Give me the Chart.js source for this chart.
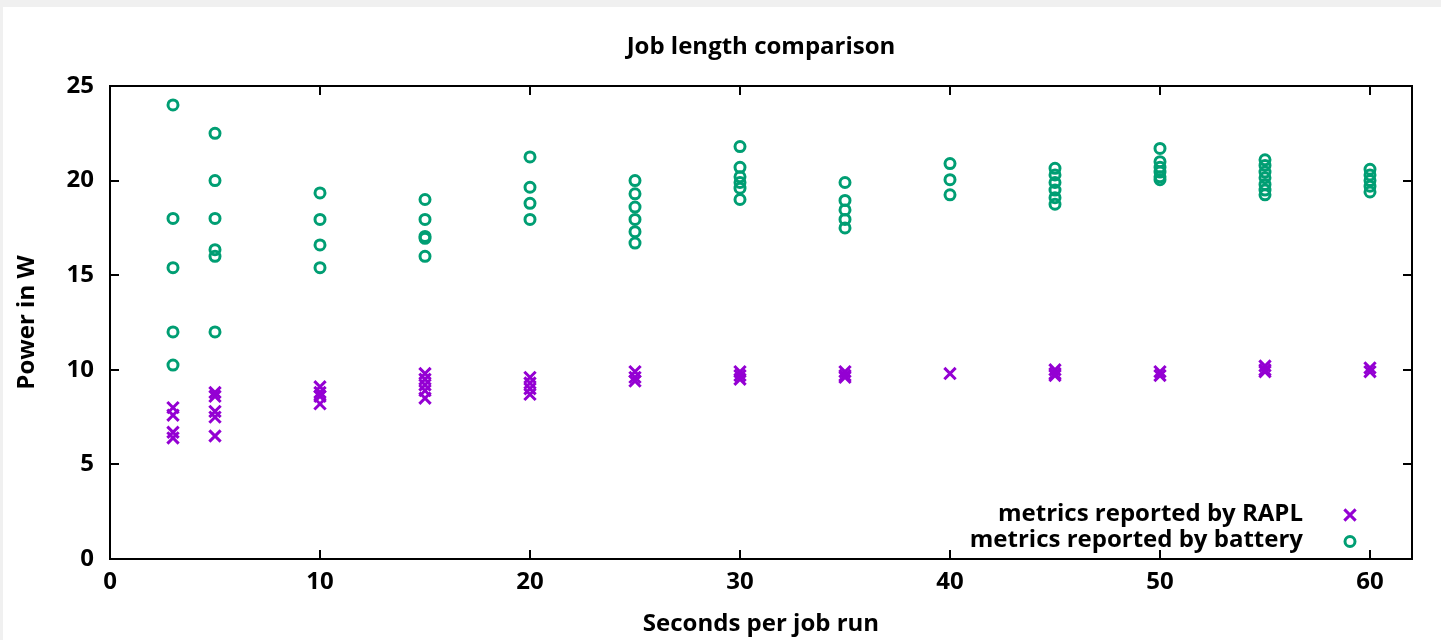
<!DOCTYPE html>
<html>
<head>
<meta charset="utf-8">
<title>Job length comparison</title>
<script src="https://cdn.jsdelivr.net/npm/chart.js@4.4.1/dist/chart.umd.min.js"></script>
<style>
  html, body { margin: 0; padding: 0; background: #f0f0f0; overflow: hidden; }
  #sheet { position: absolute; left: 3px; top: 7px; width: 1438px; height: 633px; background: #ffffff; }
  #wrap { position: absolute; left: 0; top: 0; width: 1441px; height: 640px; }
</style>
</head>
<body>
<div id="sheet"></div>
<div id="wrap"><canvas id="chart" width="1441" height="640"></canvas></div>
<script>
// Job lengths (seconds per run) and the power samples measured at each length
const jobLengths = [3, 5, 10, 15, 20, 25, 30, 35, 40, 45, 50, 55, 60];

const raplPower = [
  [8.0, 7.6, 6.7, 6.4],
  [8.8, 8.6, 7.8, 7.5, 6.5],
  [9.1, 8.8, 8.6, 8.2],
  [9.8, 9.5, 9.2, 8.9, 8.5],
  [9.6, 9.3, 9.0, 8.7],
  [9.9, 9.6, 9.4],
  [9.9, 9.7, 9.5],
  [9.9, 9.7, 9.6],
  [9.8],
  [10.0, 9.8, 9.7],
  [9.9, 9.7],
  [10.2, 10.0, 9.9],
  [10.1, 9.9]
];

const batteryPower = [
  [24.0, 18.0, 15.4, 12.0, 10.25],
  [22.5, 20.0, 18.0, 16.35, 16.0, 12.0],
  [19.35, 17.95, 16.6, 15.4],
  [19.0, 17.95, 17.05, 16.95, 16.0],
  [21.25, 19.65, 18.8, 17.95],
  [20.0, 19.3, 18.6, 17.95, 17.3, 16.7],
  [21.8, 20.7, 20.2, 19.9, 19.6, 19.0],
  [19.9, 18.95, 18.45, 17.95, 17.5],
  [20.9, 20.05, 19.25],
  [20.65, 20.3, 19.9, 19.5, 19.1, 18.75],
  [21.7, 21.0, 20.7, 20.45, 20.2, 20.05],
  [21.1, 20.8, 20.45, 20.15, 19.8, 19.5, 19.25],
  [20.6, 20.3, 20.0, 19.7, 19.4]
];

const xTicks = { min: 0, max: 62, step: 10 };
const yTicks = { min: 0, max: 25, step: 5 };

const seriesLabels = ['metrics reported by RAPL', 'metrics reported by battery'];
const chartTitle = 'Job length comparison';
const xTitle = 'Seconds per job run';
const yTitle = 'Power in W';

function toPoints(lengths, samples) {
  return lengths.flatMap((x, i) => samples[i].map(y => ({ x, y })));
}

const FONT = "'Open Sans', 'Noto Sans', sans-serif";
const FSIZE = 24;

// Plot title centred over the plotting area
const titlePlugin = {
  id: 'plotTitle',
  afterDraw(chart) {
    const { ctx, chartArea: a } = chart;
    ctx.save();
    ctx.font = 'bold ' + FSIZE + 'px ' + FONT;
    ctx.fillStyle = '#000';
    ctx.textAlign = 'center';
    ctx.textBaseline = 'alphabetic';
    ctx.fillText(chartTitle, (a.left + a.right) / 2, 54);
    ctx.restore();
  }
};

// Closed frame with inward ticks on all four sides
const framePlugin = {
  id: 'frame',
  beforeDatasetsDraw(chart) {
    const { ctx, chartArea: a, scales: { x, y } } = chart;
    const len = 9;
    ctx.save();
    ctx.strokeStyle = '#000';
    ctx.lineWidth = 2;
    ctx.beginPath();
    x.ticks.forEach(t => {
      const px = Math.round(x.getPixelForValue(t.value));
      ctx.moveTo(px, a.bottom); ctx.lineTo(px, a.bottom - len);
      ctx.moveTo(px, a.top); ctx.lineTo(px, a.top + len);
    });
    y.ticks.forEach(t => {
      const py = Math.round(y.getPixelForValue(t.value));
      ctx.moveTo(a.left, py); ctx.lineTo(a.left + len, py);
      ctx.moveTo(a.right, py); ctx.lineTo(a.right - len, py);
    });
    ctx.stroke();
    ctx.strokeRect(a.left, a.top, a.right - a.left, a.bottom - a.top);
    ctx.restore();
  }
};

// Key in the lower right corner: right-aligned text followed by the marker
const keyPlugin = {
  id: 'key',
  afterDatasetsDraw(chart) {
    const { ctx } = chart;
    const textRight = 1303, markX = 1350, firstRow = 515, rowGap = 26.5;
    ctx.save();
    chart.data.datasets.forEach((ds, i) => {
      const yy = firstRow + i * rowGap;
      ctx.font = 'bold ' + FSIZE + 'px ' + FONT;
      ctx.fillStyle = '#000';
      ctx.textAlign = 'right';
      ctx.textBaseline = 'middle';
      ctx.fillText(ds.label, textRight, yy - 1);
      ctx.strokeStyle = ds.borderColor;
      ctx.fillStyle = 'rgba(0,0,0,0)';
      ctx.lineWidth = ds.borderWidth;
      Chart.helpers.drawPoint(ctx, { pointStyle: ds.pointStyle, radius: ds.pointRadius, borderWidth: ds.borderWidth, rotation: 0 }, markX, yy);
    });
    ctx.restore();
  }
};

new Chart(document.getElementById('chart'), {
  type: 'scatter',
  data: {
    datasets: [
      {
        label: seriesLabels[0],
        data: toPoints(jobLengths, raplPower),
        pointStyle: 'crossRot',
        pointRadius: 8,
        pointHoverRadius: 8,
        borderWidth: 3,
        borderColor: '#9400d3',
        backgroundColor: 'rgba(0,0,0,0)'
      },
      {
        label: seriesLabels[1],
        data: toPoints(jobLengths, batteryPower),
        pointStyle: 'circle',
        pointRadius: 5,
        pointHoverRadius: 5,
        borderWidth: 3,
        borderColor: '#009e73',
        backgroundColor: 'rgba(0,0,0,0)'
      }
    ]
  },
  options: {
    responsive: false,
    animation: false,
    devicePixelRatio: 1,
    layout: { padding: { left: 0, top: 86, right: 29, bottom: 0 } },
    plugins: {
      legend: { display: false },
      title: { display: false },
      tooltip: { enabled: false }
    },
    scales: {
      x: {
        type: 'linear',
        min: xTicks.min,
        max: xTicks.max,
        grid: { display: false, drawTicks: false },
        border: { display: false },
        ticks: {
          stepSize: xTicks.step,
          includeBounds: false,
          padding: 9,
          color: '#000',
          font: { family: FONT, size: FSIZE, weight: 'bold' },
          maxRotation: 0
        },
        title: {
          display: true,
          text: xTitle,
          color: '#000',
          font: { family: FONT, size: FSIZE, weight: 'bold' },
          padding: { top: 0, bottom: 1 }
        },
        afterFit(scale) { scale.height = 81; }
      },
      y: {
        type: 'linear',
        min: yTicks.min,
        max: yTicks.max,
        grid: { display: false, drawTicks: false },
        border: { display: false },
        ticks: {
          stepSize: yTicks.step,
          includeBounds: false,
          padding: 16,
          color: '#000',
          font: { family: FONT, size: FSIZE, weight: 'bold' }
        },
        title: {
          display: true,
          text: yTitle,
          color: '#000',
          font: { family: FONT, size: FSIZE, weight: 'bold' },
          padding: { top: 13, bottom: 0 }
        },
        afterFit(scale) { scale.width = 110; }
      }
    }
  },
  plugins: [framePlugin, keyPlugin, titlePlugin]
});
</script>
</body>
</html>
